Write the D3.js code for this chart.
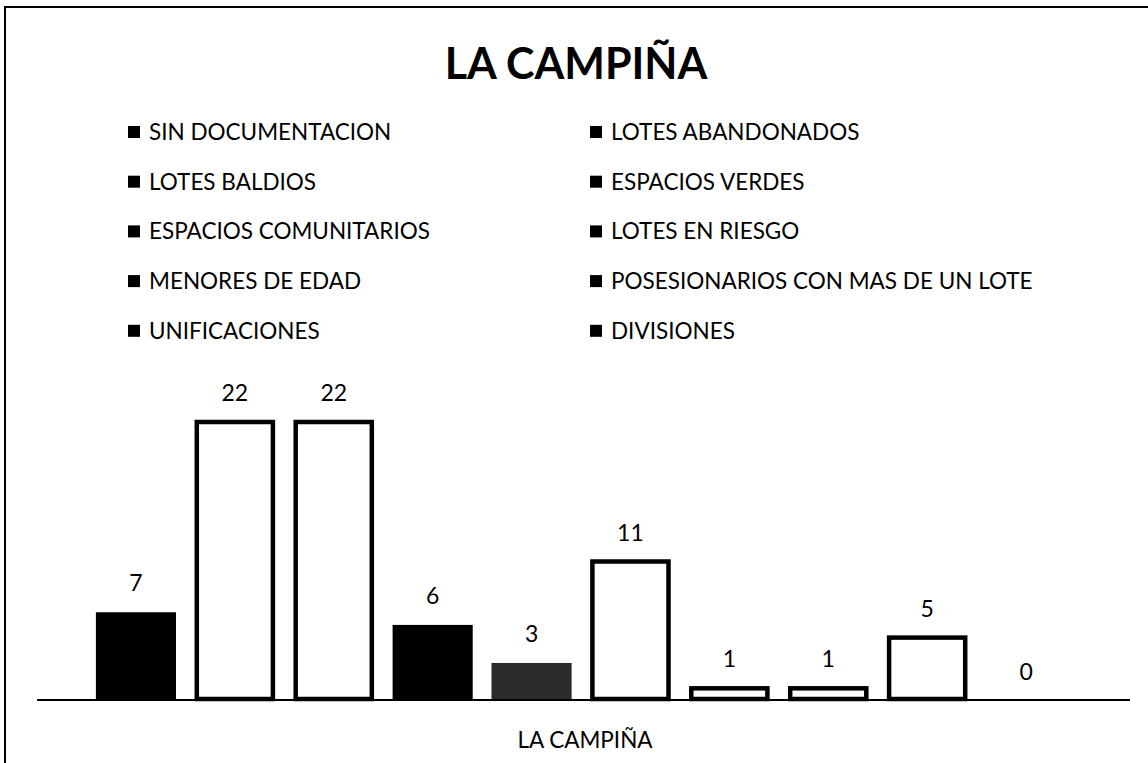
<html>
<head>
    <title>La Campiña</title>
    <script src="https://d3js.org/d3.v7.min.js"></script>
    <style>
        body { margin:0; background:#fff; }
        text { font-family: Lato, "Open Sans", sans-serif; fill:#000; }
    </style>
</head>
<body>
    <svg id="chart" width="1148" height="763"></svg>
    <script>
        // data
        var categories = ["SIN DOCUMENTACION", "LOTES ABANDONADOS", "LOTES BALDIOS", "ESPACIOS VERDES",
            "ESPACIOS COMUNITARIOS", "LOTES EN RIESGO", "MENORES DE EDAD",
            "POSESIONARIOS CON MAS DE UN LOTE", "UNIFICACIONES", "DIVISIONES"];
        var values = [7, 22, 22, 6, 3, 11, 1, 1, 5, 0];
        var fills = ["#000", "#fff", "#fff", "#000", "#2b2b2b", "#fff", "#fff", "#fff", "#fff", "#fff"];
        var groupLabel = "LA CAMPIÑA";

        var svg = d3.select("#chart");

        // frame
        svg.append("rect")
            .attr("x", 5).attr("y", 7)
            .attr("width", 1160).attr("height", 780)
            .attr("fill", "none").attr("stroke", "#000").attr("stroke-width", 2);

        svg.append("text")
            .attr("x", 576).attr("y", 79)
            .attr("text-anchor", "middle")
            .style("font-size", "43px")
            .style("font-weight", "bold")
            .text(groupLabel);

        // legend: two columns, read row by row
        var legend = svg.selectAll("g.legend").data(categories)
            .enter().append("g").attr("class", "legend")
            .attr("transform", function(d, i) {
                return "translate(" + (i % 2 ? 590 : 128) + "," + (132 + Math.floor(i / 2) * 49.7) + ")";
            });
        legend.append("rect")
            .attr("x", 0).attr("y", -6)
            .attr("width", 12).attr("height", 12)
            .attr("fill", "#000");
        legend.append("text")
            .attr("x", 21).attr("y", 8)
            .style("font-size", "22.5px")
            .text(function(d) { return d; });

        // bars
        var x = d3.scaleBand().domain(d3.range(values.length)).range([86, 1076]).paddingInner(0.19).paddingOuter(0.1);
        var y = d3.scaleLinear().domain([0, 22]).range([699, 420]);

        svg.selectAll("rect.bar").data(values)
            .enter().append("rect").attr("class", "bar")
            .attr("x", function(d, i) { return x(i) + (fills[i] === "#fff" ? 2 : 0); })
            .attr("y", function(d) { return y(d) + 2; })
            .attr("width", function(d, i) { return x.bandwidth() - (fills[i] === "#fff" ? 4 : 0); })
            .attr("height", function(d) { return Math.max(0, y(0) - y(d) - 2); })
            .attr("fill", function(d, i) { return fills[i]; })
            .attr("stroke", function(d, i) { return fills[i] === "#fff" ? "#000" : "none"; })
            .attr("stroke-width", 4.5)
            .style("display", function(d) { return d === 0 ? "none" : null; });

        svg.selectAll("text.val").data(values)
            .enter().append("text").attr("class", "val")
            .attr("x", function(d, i) { return x(i) + x.bandwidth() / 2; })
            .attr("y", function(d) { return y(d) - 19; })
            .attr("text-anchor", "middle")
            .style("font-size", "23px")
            .text(function(d) { return d; });

        // category axis
        svg.append("line")
            .attr("x1", 37).attr("x2", 1130)
            .attr("y1", 700).attr("y2", 700)
            .attr("stroke", "#000").attr("stroke-width", 2);

        svg.append("text")
            .attr("x", 585).attr("y", 748)
            .attr("text-anchor", "middle")
            .style("font-size", "22.5px")
            .text(groupLabel);
    </script>
</body>
</html>
